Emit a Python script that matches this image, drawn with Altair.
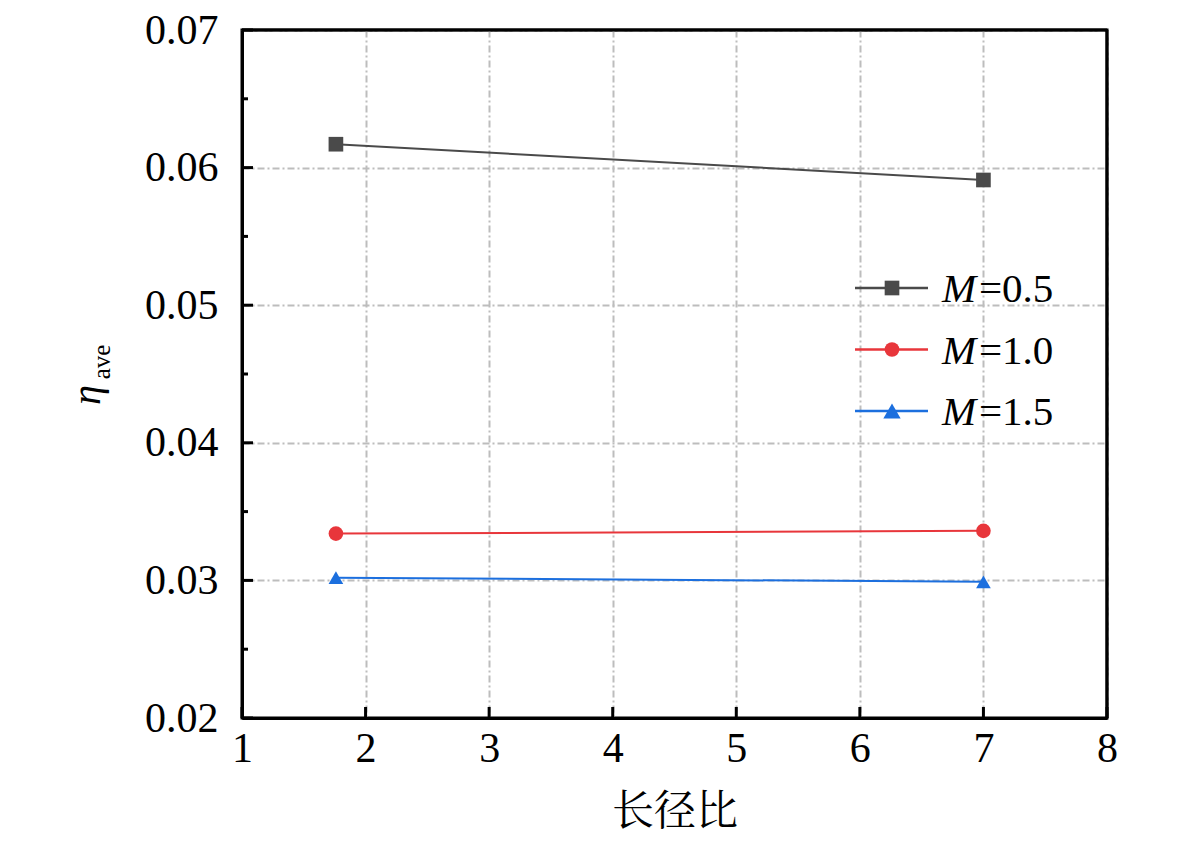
import altair as alt
import pandas as pd

# ---- data ----
series = ["M=0.5", "M=1.0", "M=1.5"]
legend_rest = ["=0.5", "=1.0", "=1.5"]
x_vals = [1.76, 7.0]
y_m05 = [0.0617, 0.0591]
y_m10 = [0.0334, 0.0336]
y_m15 = [0.0302, 0.0299]
colors = ["#4a4a4a", "#e8363b", "#1c6fde"]
shapes = ["square", "circle", "triangle-up"]
marker_sizes = [215, 215, 300]
x_ticks = [1, 2, 3, 4, 5, 6, 7, 8]
y_ticks = [0.02, 0.03, 0.04, 0.05, 0.06, 0.07]
y_minor = [0.025, 0.035, 0.045, 0.055, 0.065]
x_title = "长径比"

rows = []
for s, ys in zip(series, [y_m05, y_m10, y_m15]):
    for xv, yv in zip(x_vals, ys):
        rows.append({"series": s, "x": xv, "y": yv})
df = pd.DataFrame(rows)

W, H = 865, 688
TOP = 22
SHIFT = TOP - 14
SERIF = "Liberation Serif"
CJK = "Noto Serif CJK SC, Noto Sans CJK SC"

xscale = alt.Scale(domain=[1, 8], nice=False, zero=False)
yscale = alt.Scale(domain=[0.02, 0.07], nice=False, zero=False)
cscale = alt.Scale(domain=series, range=colors)
sscale = alt.Scale(domain=series, range=shapes)
zscale = alt.Scale(domain=series, range=marker_sizes)

grid_style = dict(grid=True, gridColor="#bdbdbd", gridDash=[7, 3, 2, 3], gridWidth=2)

xaxis = alt.Axis(values=x_ticks, format="d", title=x_title, ticks=False, tickSize=0,
                 labelFont=SERIF, labelFontSize=42, labelColor="black", labelPadding=10,
                 titleFont=CJK, titleFontSize=42, titleFontWeight="normal", titleColor="black",
                 titlePadding=22, domainColor="black", domainWidth=3,
                 labelFlush=False, **grid_style)
yaxis = alt.Axis(values=y_ticks, format=".2f", title="", ticks=False, tickSize=0,
                 labelFont=SERIF, labelFontSize=42, labelColor="black", labelPadding=24,
                 domainColor="black", domainWidth=3, labelFlush=False, **grid_style)

lines = alt.Chart(df).mark_line(strokeWidth=2).encode(
    x=alt.X("x:Q", scale=xscale, axis=xaxis),
    y=alt.Y("y:Q", scale=yscale, axis=yaxis),
    color=alt.Color("series:N", scale=cscale, legend=None),
    detail="series:N",
)

points = alt.Chart(df).mark_point(filled=True, opacity=1).encode(
    x=alt.X("x:Q", scale=xscale, axis=xaxis),
    y=alt.Y("y:Q", scale=yscale, axis=yaxis),
    color=alt.Color("series:N", scale=cscale, legend=None),
    shape=alt.Shape("series:N", scale=sscale, legend=None),
    size=alt.Size("series:N", scale=zscale, legend=None),
)

# inward ticks
ymaj = alt.Chart(pd.DataFrame({"y": y_ticks})).mark_rule(color="black", strokeWidth=3).encode(
    y=alt.Y("y:Q", scale=yscale, axis=yaxis), x=alt.value(0), x2=alt.value(11))
ymin = alt.Chart(pd.DataFrame({"y": y_minor})).mark_rule(color="black", strokeWidth=3).encode(
    y=alt.Y("y:Q", scale=yscale, axis=yaxis), x=alt.value(0), x2=alt.value(6))
xmaj = alt.Chart(pd.DataFrame({"x": x_ticks})).mark_rule(color="black", strokeWidth=3).encode(
    x=alt.X("x:Q", scale=xscale, axis=xaxis), y=alt.value(H), y2=alt.value(H - 11))

anchor = alt.Chart(pd.DataFrame({"a": [0]}))
# frame top and right, drawn over the grid
frame_top = anchor.mark_rule(color="black", strokeWidth=3).encode(
    x=alt.value(0), x2=alt.value(W), y=alt.value(0))
frame_right = anchor.mark_rule(color="black", strokeWidth=3).encode(
    x=alt.value(W), y=alt.value(0), y2=alt.value(H))

layers = [lines, points, ymaj, ymin, xmaj, frame_top, frame_right]

# y-axis title: italic eta with subscript "ave"
layers.append(anchor.mark_text(text="η", font=SERIF, fontStyle="italic", fontSize=40, angle=270,
                               align="center", baseline="middle", color="black")
              .encode(x=alt.value(-154), y=alt.value(373 - SHIFT)))
layers.append(anchor.mark_text(text="ave", font=SERIF, fontSize=25, angle=270,
                               align="center", baseline="middle", color="black")
              .encode(x=alt.value(-140), y=alt.value(340 - SHIFT)))

# custom legend
for i, (s, rest, c, sh, sz) in enumerate(zip(series, legend_rest, colors, shapes, marker_sizes)):
    yy = 266 - SHIFT + i * 61.5
    layers.append(anchor.mark_rule(color=c, strokeWidth=2.5)
                  .encode(x=alt.value(613), x2=alt.value(686), y=alt.value(yy)))
    layers.append(anchor.mark_point(shape=sh, filled=True, opacity=1, size=sz, color=c)
                  .encode(x=alt.value(650), y=alt.value(yy)))
    layers.append(anchor.mark_text(text="M", font=SERIF, fontStyle="italic", fontSize=41,
                                   align="left", baseline="middle", color="black")
                  .encode(x=alt.value(700), y=alt.value(yy + 2)))
    layers.append(anchor.mark_text(text=rest, font=SERIF, fontSize=41,
                                   align="left", baseline="middle", color="black")
                  .encode(x=alt.value(737), y=alt.value(yy + 2)))

chart = alt.layer(*layers).properties(
    width=W, height=H,
    autosize=alt.AutoSizeParams(type="none"),
    padding={"left": 234, "top": TOP, "right": 50, "bottom": 122},
).configure(background="white").configure_view(stroke="black", strokeWidth=3)

chart.save("out.html", embed_options={"renderer": "svg", "actions": False})
